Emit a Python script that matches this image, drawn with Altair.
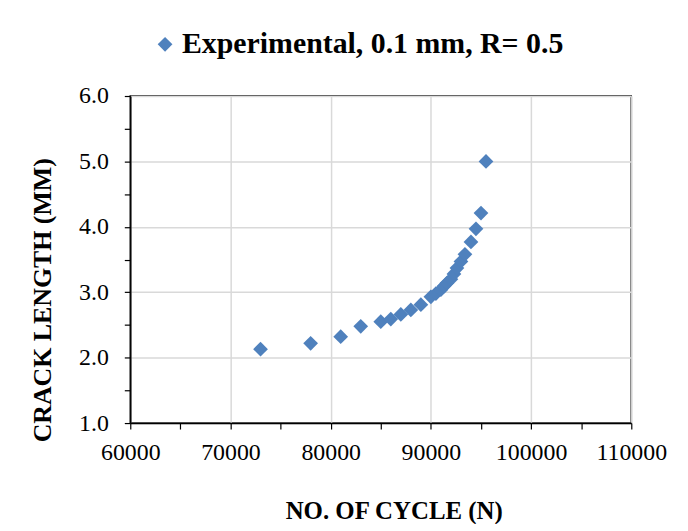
import altair as alt
import pandas as pd

cycles = [73000, 78000, 81000, 83000, 85000, 86000, 87000, 88000, 89000, 90000,
          90500, 91000, 91300, 91600, 92000, 92300, 92600, 93000, 93400, 94000,
          94500, 95000, 95500]
crack = [2.13, 2.22, 2.32, 2.48, 2.55, 2.59, 2.66, 2.73, 2.81, 2.93,
         2.98, 3.04, 3.09, 3.14, 3.20, 3.28, 3.37, 3.47, 3.58, 3.77,
         3.97, 4.21, 5.00]
series_name = "Experimental, 0.1 mm, R= 0.5"
x_ticks = list(range(60000, 110001, 5000))
y_ticks = [1.0, 1.5, 2.0, 2.5, 3.0, 3.5, 4.0, 4.5, 5.0, 5.5, 6.0]

df = pd.DataFrame({"cycles": cycles, "crack": crack, "series": [series_name] * len(cycles)})

FONT = "Liberation Serif"

chart = alt.Chart(df).mark_point(shape="diamond", filled=True, size=220, opacity=1).encode(
    x=alt.X("cycles:Q",
            scale=alt.Scale(domain=[60000, 110000], nice=False, zero=False),
            axis=alt.Axis(values=x_ticks, title="NO. OF CYCLE (N)",
                          labelExpr="datum.value % 10000 === 0 ? format(datum.value, 'd') : ''",
                          gridOpacity={"condition": {"test": "datum.value % 10000 !== 0", "value": 0}, "value": 1},
                          labelOverlap=False, labelFlush=False,
                          labelFontSize=24, titleFontSize=25, labelPadding=12,
                          titleX=265, titleY=88, titleAlign="center", titleBaseline="middle",
                          tickSize=6)),
    y=alt.Y("crack:Q",
            scale=alt.Scale(domain=[1.0, 6.0], nice=False, zero=False),
            axis=alt.Axis(values=y_ticks, title="CRACK LENGTH (MM)",
                          labelExpr="datum.value % 1 === 0 ? format(datum.value, '.1f') : ''",
                          gridOpacity={"condition": {"test": "datum.value % 1 !== 0", "value": 0}, "value": 1},
                          labelOverlap=False, labelFlush=False,
                          labelFontSize=24, titleFontSize=26, labelPadding=16,
                          titleX=-88, titleY=205, titleBaseline="middle", titleAlign="center",
                          tickSize=6)),
    color=alt.Color("series:N", scale=alt.Scale(range=["#4F81BD"]),
                    legend=alt.Legend(title=None, orient="none", legendX=20, legendY=-67,
                                      symbolType="diamond", symbolSize=220, labelOffset=2,
                                      labelFontSize=30, labelFontWeight="bold",
                                      labelFont=FONT, labelColor="black", labelLimit=600)),
).properties(
    width=504, height=329,
    autosize=alt.AutoSizeParams(type="none"),
    padding={"left": 123, "top": 87, "right": 49, "bottom": 100},
).configure_axis(
    labelFont=FONT, titleFont=FONT, labelColor="black", titleColor="black",
    titleFontWeight="bold", domainColor="black", domainWidth=1.5,
    tickColor="black", tickWidth=1.2, gridColor="#d9d9d9", gridWidth=1.5,
).configure_view(stroke="black", strokeWidth=1.5)

chart.save("out.html", embed_options={"renderer": "svg", "actions": False})
